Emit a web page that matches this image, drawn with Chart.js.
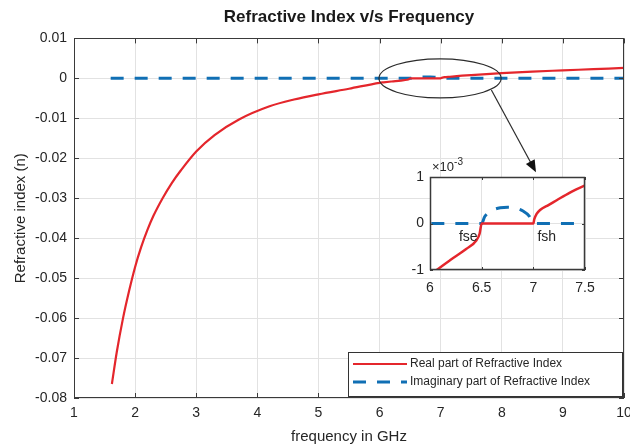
<!DOCTYPE html>
<html>
<head>
<meta charset="utf-8">
<title>Refractive Index v/s Frequency</title>
<script src="https://cdn.jsdelivr.net/npm/chart.js@4.4.1/dist/chart.umd.min.js"></script>
<style>
  body { margin: 0; background: #fff; }
  #wrap { position: relative; width: 630px; height: 446px; overflow: hidden; }
  #mainChart { position: absolute; left: 0; top: 0; }
  #insetChart { position: absolute; left: 400px; top: 156px; }
</style>
</head>
<body>
<div id="wrap">
  <canvas id="mainChart" width="630" height="446"></canvas>
  <canvas id="insetChart" width="200" height="140"></canvas>
</div>
<script>
// values (frequency in GHz, refractive index n)
const realFreq = [1.62, 1.7, 1.8, 1.9, 2.0, 2.1, 2.2, 2.3, 2.45, 2.6, 2.75, 3.0, 3.3, 3.7,
                  4.2, 4.6, 5.0, 5.5, 6.0, 6.065, 6.2, 6.35, 6.45, 6.48, 6.5, 6.75, 7.0,
                  7.01, 7.03, 7.065, 7.15, 7.226, 7.35, 7.5, 8.0, 8.5, 9.0, 9.5, 10.0];
const realN = [-0.0765, -0.0685, -0.0602, -0.0533, -0.0472, -0.0422, -0.0380, -0.0344, -0.0300,
               -0.0262, -0.0230, -0.0183, -0.0142, -0.0103, -0.0070, -0.0053, -0.0040, -0.0026,
               -0.00112, -0.0010, -0.00078, -0.00055, -0.00036, -0.00022, 0, 0, 0,
               0.0001, 0.0002, 0.00029, 0.0004, 0.0005, 0.00066, 0.00082, 0.0013, 0.0017,
               0.0020, 0.0023, 0.0026];
const imagFreq = [1.6, 6.5, 6.53, 6.6, 6.68, 6.75, 6.83, 6.9, 6.96, 7.0, 10.0];
const imagN = [0, 0, 0.00015, 0.00028, 0.00034, 0.00035, 0.00033, 0.00027, 0.00016, 0, 0];

const seriesLabels = ['Real part of Refractive Index', 'Imaginary part of Refractive Index'];
const mainXRange = [1, 10];
const mainYRange = [-0.08, 0.01];
const insetXRange = [6, 7.5];
const insetYRange = [-0.001, 0.001];
const fLabels = ['fse', 'fsh'];
const fLabelPos = [[6.37, -0.00029], [7.13, -0.00029]];

const FONT = "'Liberation Sans', Arial, Helvetica, sans-serif";
const TXT = '#262626';
const RED = '#e4262c';
const BLUE = '#106fb4';

function toPoints(xs, ys) {
    return xs.map((x, i) => ({ x: x, y: ys[i] }));
}

function makeDatasets(redW, blueW) {
    return [{
        label: seriesLabels[0],
        data: toPoints(realFreq, realN),
        borderColor: RED,
        borderWidth: redW,
        cubicInterpolationMode: 'monotone',
        pointRadius: 0,
        fill: false
    }, {
        label: seriesLabels[1],
        data: toPoints(imagFreq, imagN),
        borderColor: BLUE,
        borderWidth: blueW,
        borderDash: [13, 11],
        cubicInterpolationMode: 'monotone',
        pointRadius: 0,
        fill: false
    }];
}

// white plot area, box round it and inward ticks like matlab
const framePlugin = {
    id: 'frame',
    beforeDraw(chart, args, opts) {
        const a = chart.chartArea;
        chart.ctx.save();
        chart.ctx.fillStyle = '#fff';
        chart.ctx.fillRect(a.left, a.top, a.width, a.height);
        chart.ctx.restore();
    },
    afterDatasetsDraw(chart, args, opts) {
        const { ctx, chartArea: a, scales: { x, y } } = chart;
        const len = opts.tickLen;
        ctx.save();
        ctx.strokeStyle = opts.color;
        ctx.lineWidth = 1;
        ctx.beginPath();
        x.ticks.forEach(t => {
            const px = Math.round(x.getPixelForValue(t.value)) + 0.5;
            ctx.moveTo(px, a.bottom); ctx.lineTo(px, a.bottom - len);
            ctx.moveTo(px, a.top); ctx.lineTo(px, a.top + len);
        });
        y.ticks.forEach(t => {
            const py = Math.round(y.getPixelForValue(t.value)) + 0.5;
            ctx.moveTo(a.left, py); ctx.lineTo(a.left + len, py);
            ctx.moveTo(a.right, py); ctx.lineTo(a.right - len, py);
        });
        ctx.stroke();
        ctx.lineWidth = opts.width;
        ctx.strokeRect(Math.round(a.left) + 0.5, Math.round(a.top) + 0.5,
                       Math.round(a.width) - 1, Math.round(a.height) - 1);
        ctx.restore();
    }
};

// ellipse, arrow and legend of the main plot
const mainExtras = {
    id: 'mainExtras',
    afterDraw(chart) {
        const { ctx, chartArea: a, scales: { x, y } } = chart;
        ctx.save();
        ctx.strokeStyle = '#2b2b2b';
        ctx.fillStyle = '#111';
        ctx.lineWidth = 1.2;

        const cx = x.getPixelForValue(6.99), cy = y.getPixelForValue(0.0);
        const rx = x.getPixelForValue(7.99) - cx;
        const ry = cy - y.getPixelForValue(0.0049);
        ctx.beginPath();
        ctx.ellipse(cx, cy, rx, ry, 0, 0, Math.PI * 2);
        ctx.stroke();

        const x0 = x.getPixelForValue(7.83), y0 = y.getPixelForValue(-0.0029);
        const x1 = x.getPixelForValue(8.56), y1 = y.getPixelForValue(-0.0235);
        const ang = Math.atan2(y1 - y0, x1 - x0);
        ctx.beginPath();
        ctx.moveTo(x0, y0);
        ctx.lineTo(x1 - 8 * Math.cos(ang), y1 - 8 * Math.sin(ang));
        ctx.stroke();
        ctx.beginPath();
        ctx.moveTo(x1, y1);
        ctx.lineTo(x1 - 12 * Math.cos(ang) + 5 * Math.sin(ang), y1 - 12 * Math.sin(ang) - 5 * Math.cos(ang));
        ctx.lineTo(x1 - 12 * Math.cos(ang) - 5 * Math.sin(ang), y1 - 12 * Math.sin(ang) + 5 * Math.cos(ang));
        ctx.closePath();
        ctx.fill();

        // legend box, bottom right inside the axes
        const bw = 274, bh = 44;
        const bx = Math.round(a.right - 2 - bw), by = Math.round(a.bottom - 2 - bh);
        ctx.fillStyle = '#fff';
        ctx.fillRect(bx, by, bw, bh);
        ctx.strokeStyle = '#333';
        ctx.lineWidth = 1;
        ctx.strokeRect(bx + 0.5, by + 0.5, bw, bh);
        ctx.font = '12px ' + FONT;
        ctx.textBaseline = 'middle';
        chart.data.datasets.forEach((ds, i) => {
            const ly = by + 12 + i * 18;
            ctx.save();
            ctx.strokeStyle = ds.borderColor;
            ctx.lineWidth = ds.borderWidth;
            ctx.setLineDash(ds.borderDash || []);
            ctx.beginPath();
            ctx.moveTo(bx + 5, ly);
            ctx.lineTo(bx + 59, ly);
            ctx.stroke();
            ctx.restore();
            ctx.fillStyle = TXT;
            ctx.fillText(ds.label, bx + 62, ly);
        });
        ctx.restore();
    }
};

const insetExtras = {
    id: 'insetExtras',
    afterDraw(chart) {
        const { ctx, chartArea: a, scales: { x, y } } = chart;
        ctx.save();
        ctx.fillStyle = TXT;
        ctx.textBaseline = 'alphabetic';
        ctx.textAlign = 'left';
        ctx.font = '13px ' + FONT;
        ctx.fillText('\u00d710', a.left + 2, a.top - 6);
        const w = ctx.measureText('\u00d710').width;
        ctx.font = '10px ' + FONT;
        ctx.fillText('-3', a.left + 2 + w, a.top - 12);

        ctx.font = '14px ' + FONT;
        ctx.textAlign = 'center';
        ctx.textBaseline = 'middle';
        fLabels.forEach((t, i) => {
            ctx.fillText(t, x.getPixelForValue(fLabelPos[i][0]), y.getPixelForValue(fLabelPos[i][1]));
        });
        ctx.restore();
    }
};

const mainChart = new Chart(document.getElementById('mainChart'), {
    type: 'line',
    data: { datasets: makeDatasets(2.2, 3) },
    plugins: [framePlugin, mainExtras],
    options: {
        responsive: false,
        animation: false,
        devicePixelRatio: 1,
        layout: { padding: { left: 0, right: 6, top: 0, bottom: 0 } },
        plugins: {
            legend: { display: false },
            tooltip: { enabled: false },
            title: {
                display: true,
                text: 'Refractive Index v/s Frequency',
                fullSize: false,
                color: '#1a1a1a',
                font: { family: FONT, size: 17, weight: 'bold', lineHeight: 1.2 },
                padding: { top: 7, bottom: 11 }
            },
            frame: { tickLen: 5, color: '#3a3a3a', width: 1 }
        },
        scales: {
            x: {
                type: 'linear',
                min: mainXRange[0],
                max: mainXRange[1],
                ticks: { stepSize: 1, color: TXT, font: { family: FONT, size: 14 }, padding: 7, maxRotation: 0, autoSkip: false },
                grid: { color: '#e2e2e2', drawTicks: false },
                border: { display: false },
                title: { display: true, text: 'frequency in GHz', color: TXT, font: { family: FONT, size: 15, lineHeight: 1.2 }, padding: { top: 0, bottom: 0 } },
                afterFit(s) { s.height = 48; s.paddingLeft = 0; s.paddingRight = 0; }
            },
            y: {
                type: 'linear',
                min: mainYRange[0],
                max: mainYRange[1],
                ticks: { stepSize: 0.01, color: TXT, font: { family: FONT, size: 14 }, padding: 7,
                         callback: v => String(+v.toFixed(2)) },
                grid: { color: '#e2e2e2', drawTicks: false },
                border: { display: false },
                title: { display: true, text: 'Refractive index (n)', color: TXT, font: { family: FONT, size: 15, lineHeight: 1.2 }, padding: { top: 12, bottom: 0 } },
                afterFit(s) { s.width = 74; s.paddingTop = 0; s.paddingBottom = 0; }
            }
        }
    }
});

const insetChart = new Chart(document.getElementById('insetChart'), {
    type: 'line',
    data: { datasets: makeDatasets(2.5, 3) },
    plugins: [framePlugin, insetExtras],
    options: {
        responsive: false,
        animation: false,
        devicePixelRatio: 1,
        layout: { padding: { left: 0, right: 15, top: 21, bottom: 0 } },
        plugins: {
            legend: { display: false },
            tooltip: { enabled: false },
            frame: { tickLen: 3, color: '#3a3a3a', width: 1.5 }
        },
        scales: {
            x: {
                type: 'linear',
                min: insetXRange[0],
                max: insetXRange[1],
                ticks: { stepSize: 0.5, color: TXT, font: { family: FONT, size: 14 }, padding: 10, maxRotation: 0, autoSkip: false,
                         callback: v => String(+v.toFixed(1)) },
                grid: { color: '#e2e2e2', drawTicks: false },
                border: { display: false },
                afterFit(s) { s.height = 26; s.paddingLeft = 0; s.paddingRight = 0; }
            },
            y: {
                type: 'linear',
                min: insetYRange[0],
                max: insetYRange[1],
                ticks: { stepSize: 0.001, color: TXT, font: { family: FONT, size: 14 }, padding: 6,
                         callback: v => String(Math.round(v * 1000)) },
                grid: { color: '#e2e2e2', drawTicks: false },
                border: { display: false },
                afterFit(s) { s.width = 30; s.paddingTop = 0; s.paddingBottom = 0; }
            }
        }
    }
});
</script>
</body>
</html>
